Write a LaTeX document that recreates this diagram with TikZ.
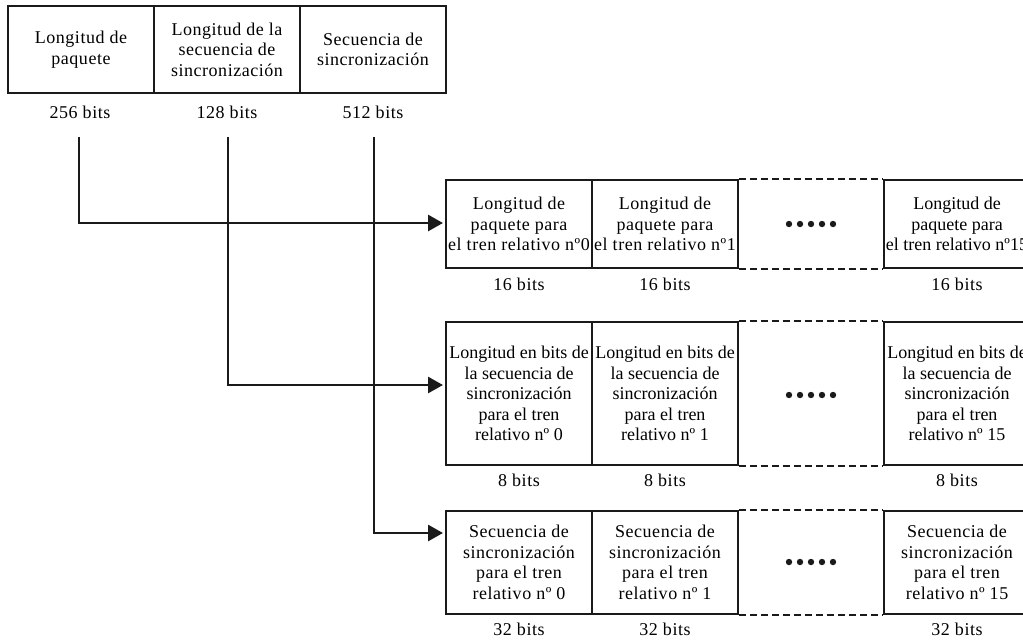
\documentclass[tikz,border=0pt]{standalone}
\usepackage{fontspec}
\setmainfont{Liberation Serif}
\newfontfamily\spacedfont[LetterSpace=3]{Liberation Serif}
\usetikzlibrary{arrows.meta}
\definecolor{frame}{HTML}{1A1A1A}

\tikzset{
	px/.style={x=1pt,y=-1pt},
	cell/.style={draw=frame, line width=1.8pt, inner sep=0pt, minimum width=146pt,
		align=center, font=\spacedfont\fontsize{18}{20.5}\selectfont},
	tight/.style={font=\fontsize{18}{20.5}\selectfont},
	bits/.style={inner sep=0pt, font=\spacedfont\fontsize{18}{20.5}\selectfont},
	gap/.style={draw=frame, line width=1.7pt, dash pattern=on 7pt off 4pt},
	feed/.style={draw=frame, line width=2.8pt, -{Triangle[length=15pt,width=16pt]}},
}

\begin{document}
\begin{tikzpicture}[px]
	\useasboundingbox (0,0) rectangle (1023,641);
	% trama original
	\node[cell, minimum height=87pt] (p0) at (81,49.5) {Longitud de\\paquete};
	\node[cell, minimum height=87pt] (p1) at (227,49.5) {Longitud de la\\secuencia de\\sincronización};
	\node[cell, minimum height=87pt] (p2) at (373,49.5) {Secuencia de\\sincronización};
	\node[bits] (b0) at (80,112) {256 bits};
	\node[bits] (b1) at (227,112) {128 bits};
	\node[bits] (b2) at (373,112) {512 bits};
	% longitud de paquete
	\node[cell, minimum height=88pt] (t0) at (519,224) {Longitud de\\paquete para\\el tren relativo nº0};
	\node[cell, minimum height=88pt] (t1) at (665,224) {Longitud de\\paquete para\\el tren relativo nº1};
	\node[cell, tight, minimum height=88pt] (t15) at (957,224) {Longitud de\\paquete para\\el tren relativo nº15};
	\node[bits] (tb0) at (519,284) {16 bits};
	\node[bits] (tb1) at (665,284) {16 bits};
	\node[bits] (tb15) at (957,284) {16 bits};
	% longitud de la secuencia
	\node[cell, tight, minimum height=143pt] (l0) at (519,393.5) {Longitud en bits de\\la secuencia de\\sincronización\\para el tren\\relativo nº 0};
	\node[cell, tight, minimum height=143pt] (l1) at (665,393.5) {Longitud en bits de\\la secuencia de\\sincronización\\para el tren\\relativo nº 1};
	\node[cell, tight, minimum height=143pt] (l15) at (957,393.5) {Longitud en bits de\\la secuencia de\\sincronización\\para el tren\\relativo nº 15};
	\node[bits] (lb0) at (519,480) {8 bits};
	\node[bits] (lb1) at (665,480) {8 bits};
	\node[bits] (lb15) at (957,480) {8 bits};
	% secuencia de sincronizacion
	\node[cell, minimum height=103pt] (q0) at (519,562.5) {Secuencia de\\sincronización\\para el tren\\relativo nº 0};
	\node[cell, minimum height=103pt] (q1) at (665,562.5) {Secuencia de\\sincronización\\para el tren\\relativo nº 1};
	\node[cell, minimum height=103pt] (q15) at (957,562.5) {Secuencia de\\sincronización\\para el tren\\relativo nº 15};
	\node[bits] (qb0) at (519,629) {32 bits};
	\node[bits] (qb1) at (665,629) {32 bits};
	\node[bits] (qb15) at (957,629) {32 bits};
	% huecos
	\foreach \a/\b in {t1/t15, l1/l15, q1/q15} {
		\draw[gap] (\a.north east) -- (\b.north west);
		\draw[gap] (\a.south east) -- (\b.south west);
	}
	\foreach \y in {224, 395, 562} {
		\foreach \k in {0, 1, ..., 4} {
			\fill[frame] (789+11*\k,\y) circle (3.2pt);
		}
	}
	% flechas
	\coordinate (s0) at (79,137);
	\coordinate (s1) at (228,137);
	\coordinate (s2) at (374,137);
	\coordinate (e0) at (443,223);
	\coordinate (e1) at (443,385);
	\coordinate (e2) at (443,533);
	\draw[feed] (s0) |- (e0);
	\draw[feed] (s1) |- (e1);
	\draw[feed] (s2) |- (e2);
\end{tikzpicture}
\end{document}
